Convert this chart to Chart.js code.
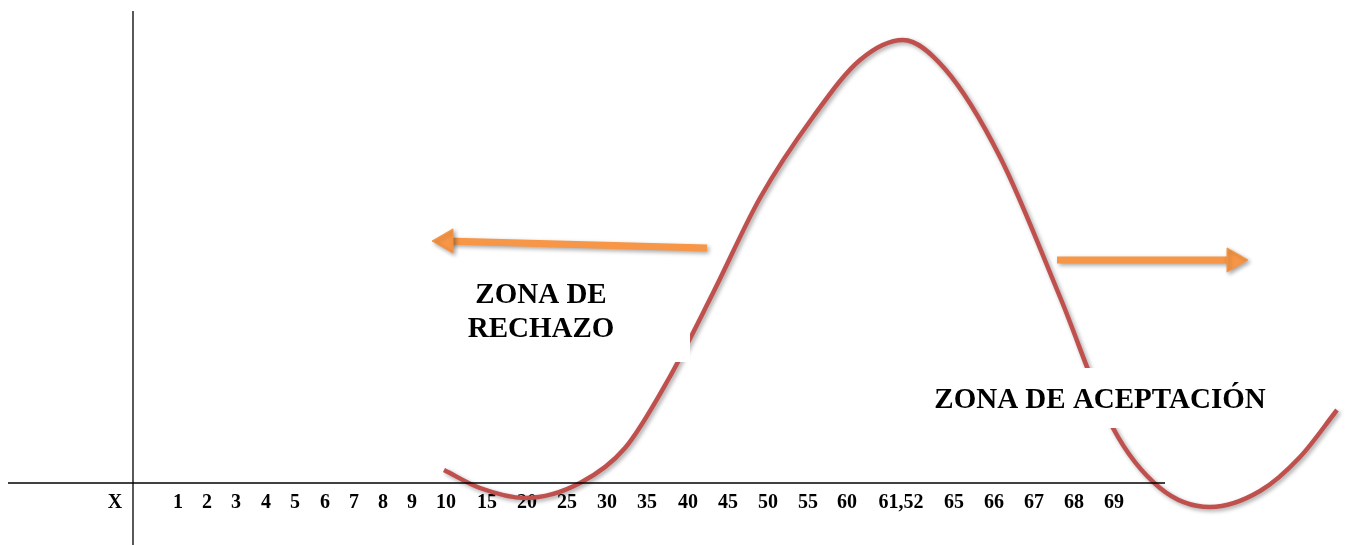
<!DOCTYPE html>
<html lang="es">
<head>
    <meta charset="UTF-8">
    <title>Zona de rechazo / aceptación</title>
    <script src="https://cdn.jsdelivr.net/npm/chart.js"></script>
    <style>
        body { margin: 0; background: #fff; }
        #wrap { width: 1347px; height: 545px; }
    </style>
</head>
<body>
    <div id="wrap"><canvas id="zonaChart"></canvas></div>

    <script>
        // tick labels along the horizontal line and where they sit on it
        const tickLabels = ['X', '1', '2', '3', '4', '5', '6', '7', '8', '9', '10', '15', '20', '25', '30', '35',
            '40', '45', '50', '55', '60', '61,52', '65', '66', '67', '68', '69'];
        const tickPos = [115, 178, 207, 236, 266, 295, 325, 354, 383, 412, 446, 487, 527, 567, 607, 647,
            688, 728, 768, 808, 847, 901, 954, 994, 1034, 1074, 1114];

        // red curve
        const curveX = [444, 480, 525, 580, 625, 668, 713, 760, 813, 860, 903, 945, 1000, 1060, 1113,
            1160, 1210, 1260, 1300, 1337];
        const curveY = [13, -5, -15, 0, 35, 103, 190, 285, 366, 423, 443, 414, 326, 186, 55,
            -5, -24, -8, 26, 73];

        // arrows: tail then head
        const leftArrowX = [707, 446];
        const leftArrowY = [235, 242];
        const rightArrowX = [1057, 1234];
        const rightArrowY = [223, 223];

        // axis lines
        const yAxisX = [133, 133];
        const yAxisY = [472, -62];
        const xAxisX = [8, 1165];
        const xAxisY = [0, 0];

        const pts = (xs, ys) => xs.map((x, i) => ({ x: x, y: ys[i] }));

        const RED = '#c0504d';
        const ORANGE = '#f79646';
        const FONT = '"Liberation Serif", "Times New Roman", serif';

        // soft shadow behind curve and arrows
        const shadowPlugin = {
            id: 'shadow',
            beforeDatasetDraw(chart, args) {
                if (!chart.data.datasets[args.index].shadow) return;
                const ctx = chart.ctx;
                ctx.save();
                ctx.shadowColor = 'rgba(0,0,0,0.35)';
                ctx.shadowBlur = 4;
                ctx.shadowOffsetX = 2;
                ctx.shadowOffsetY = 2;
            },
            afterDatasetDraw(chart, args) {
                if (!chart.data.datasets[args.index].shadow) return;
                chart.ctx.restore();
            }
        };

        // white text boxes that sit on top of the curve
        const boxes = [
            { x0: 440, x1: 690, y0: 121, y1: 215, lines: ['ZONA DE', 'RECHAZO'], cx: 541, base: [180, 146] },
            { x0: 915, x1: 1290, y0: 55, y1: 115, lines: ['ZONA DE ACEPTACIÓN'], cx: 1100, base: [75] }
        ];
        const boxPlugin = {
            id: 'boxes',
            afterDatasetsDraw(chart) {
                const ctx = chart.ctx, sx = chart.scales.x, sy = chart.scales.y;
                ctx.save();
                boxes.forEach(b => {
                    const l = sx.getPixelForValue(b.x0), r = sx.getPixelForValue(b.x1);
                    const t = sy.getPixelForValue(b.y1), bt = sy.getPixelForValue(b.y0);
                    ctx.fillStyle = '#fff';
                    ctx.fillRect(l, t, r - l, bt - t);
                    ctx.fillStyle = '#000';
                    ctx.font = 'bold 29px ' + FONT;
                    ctx.textAlign = 'center';
                    ctx.textBaseline = 'alphabetic';
                    b.lines.forEach((s, i) => {
                        ctx.fillText(s, sx.getPixelForValue(b.cx), sy.getPixelForValue(b.base[i]));
                    });
                });
                ctx.restore();
            }
        };

        new Chart(document.getElementById('zonaChart'), {
            type: 'line',
            data: {
                datasets: [
                    {
                        data: pts(yAxisX, yAxisY),
                        borderColor: '#000',
                        borderWidth: 1.3,
                        pointRadius: 0,
                        clip: false
                    },
                    {
                        data: pts(xAxisX, xAxisY),
                        borderColor: '#000',
                        borderWidth: 1.3,
                        pointRadius: 0,
                        clip: false
                    },
                    {
                        data: pts(curveX, curveY),
                        borderColor: RED,
                        borderWidth: 4.5,
                        pointRadius: 0,
                        cubicInterpolationMode: 'monotone',
                        clip: false,
                        shadow: true
                    },
                    {
                        data: pts(leftArrowX, leftArrowY),
                        borderColor: ORANGE,
                        backgroundColor: ORANGE,
                        borderWidth: 7,
                        borderCapStyle: 'butt',
                        pointRadius: [0, 14],
                        pointBorderWidth: 1,
                        pointStyle: 'triangle',
                        rotation: -90,
                        clip: false,
                        shadow: true
                    },
                    {
                        data: pts(rightArrowX, rightArrowY),
                        borderColor: ORANGE,
                        backgroundColor: ORANGE,
                        borderWidth: 7,
                        borderCapStyle: 'butt',
                        pointRadius: [0, 14],
                        pointBorderWidth: 1,
                        pointStyle: 'triangle',
                        rotation: 90,
                        clip: false,
                        shadow: true
                    }
                ]
            },
            options: {
                responsive: true,
                maintainAspectRatio: false,
                animation: false,
                events: [],
                layout: { autoPadding: false, padding: 0 },
                plugins: {
                    legend: { display: false },
                    tooltip: { enabled: false }
                },
                scales: {
                    x: {
                        type: 'linear',
                        min: 0,
                        max: 1347,
                        grid: { display: false, drawTicks: false },
                        border: { display: false },
                        afterBuildTicks: s => { s.ticks = tickPos.map(v => ({ value: v })); },
                        afterFit: s => { s.height = 62; },
                        ticks: {
                            autoSkip: false,
                            maxRotation: 0,
                            padding: 8,
                            color: '#000',
                            font: { family: FONT, size: 20, weight: 'bold' },
                            callback: (v, i) => tickLabels[i]
                        }
                    },
                    y: {
                        display: false,
                        min: 0,
                        max: 483
                    }
                }
            },
            plugins: [shadowPlugin, boxPlugin]
        });
    </script>
</body>
</html>
